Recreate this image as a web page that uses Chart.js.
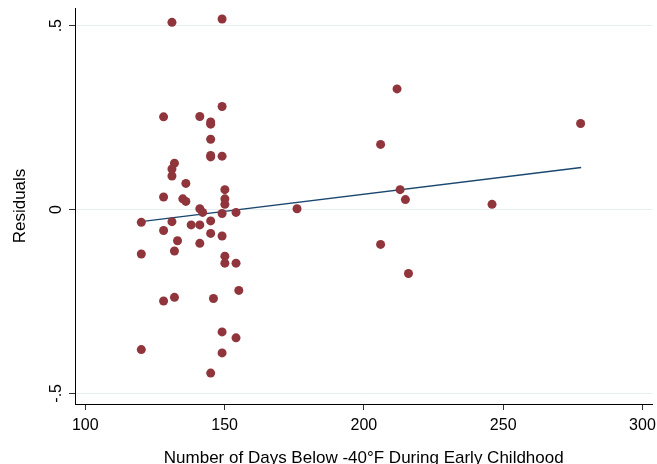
<!DOCTYPE html>
<html>
<head>
<meta charset="utf-8">
<script src="https://cdn.jsdelivr.net/npm/chart.js@4/dist/chart.umd.min.js"></script>
<style>
  html, body { margin: 0; padding: 0; background: #fff; }
  canvas { display: block; }
</style>
</head>
<body>
<canvas id="grafico" width="657" height="464"></canvas>
<script>
/* datos */
const xVals = [131.1, 149.1, 149.1, 128.1, 141.1, 145.0, 145.0, 145.0, 145.0, 145.0,
               149.1, 132.0, 131.1, 131.1, 136.1, 128.1, 135.0, 136.1, 150.1, 150.1,
               150.1, 141.1, 142.1, 149.1, 154.1, 176.0, 120.1, 131.1, 145.0, 128.1,
               138.0, 141.1, 145.0, 149.1, 133.1, 141.1, 120.1, 132.0, 150.1, 150.1,
               154.1, 155.1, 128.1, 132.0, 146.0, 149.1, 154.1, 120.1, 149.1, 145.0,
               211.9, 277.8, 206.0, 213.0, 214.9, 246.0, 206.0, 216.0];
const yVals = [0.509, 0.518, 0.280, 0.252, 0.253, 0.238, 0.232, 0.191, 0.147, 0.143,
               0.145, 0.126, 0.110, 0.091, 0.071, 0.034, 0.029, 0.022, 0.054, 0.029,
               0.014, 0.002, -0.008, -0.011, -0.008, 0.002, -0.035, -0.033, -0.031, -0.057,
               -0.042, -0.042, -0.065, -0.072, -0.085, -0.092, -0.121, -0.113, -0.127, -0.146,
               -0.146, -0.220, -0.249, -0.239, -0.242, -0.333, -0.349, -0.381, -0.390, -0.445,
               0.328, 0.234, 0.177, 0.054, 0.027, 0.014, -0.095, -0.174];
const fitX   = [120, 278];
const fitY   = [-0.033, 0.114];
const xTicks = [100, 150, 200, 250, 300];
const yTicks = [-0.5, 0, 0.5];

const FUENTE = 'Liberation Sans, Arial, sans-serif';

// etiquetas del eje y giradas, como en Stata
const etiquetasY = {
  id: 'etiquetasY',
  afterDraw(chart) {
    const { ctx, scales: { y } } = chart;
    ctx.save();
    ctx.fillStyle = '#000';
    ctx.font = '16px ' + FUENTE;
    ctx.textAlign = 'center';
    ctx.textBaseline = 'middle';
    y.ticks.forEach(t => {
      const py = y.getPixelForValue(t.value);
      ctx.save();
      ctx.translate(57, py);
      ctx.rotate(-Math.PI / 2);
      ctx.fillText(String(t.value).replace('0.', '.'), 0, 0);
      ctx.restore();
    });
    ctx.restore();
  }
};

new Chart(document.getElementById('grafico').getContext('2d'), {
  type: 'scatter',
  data: {
    datasets: [
      {
        data: xVals.map((x, i) => ({ x, y: yVals[i] })),
        backgroundColor: '#90353b',
        borderWidth: 0,
        pointRadius: 4.5,
        pointHoverRadius: 4.5
      },
      {
        type: 'line',
        data: fitX.map((x, i) => ({ x, y: fitY[i] })),
        borderColor: '#1a476f',
        borderWidth: 1.5,
        pointRadius: 0,
        fill: false
      }
    ]
  },
  options: {
    responsive: false,
    animation: false,
    layout: { padding: { top: 8, right: 4, left: 0, bottom: 0 } },
    plugins: { legend: { display: false }, tooltip: { enabled: false } },
    scales: {
      x: {
        type: 'linear',
        min: 96.3, max: 303.6,
        afterBuildTicks: s => { s.ticks = xTicks.map(v => ({ value: v })); },
        afterFit: s => { s.height = 60; s.paddingLeft = 0; s.paddingRight = 0; },
        grid: { drawOnChartArea: false, drawTicks: true, tickLength: 6, tickColor: '#333' },
        border: { display: true, color: '#000', width: 1 },
        ticks: { font: { family: FUENTE, size: 16 }, color: '#000', padding: 6, maxRotation: 0 },
        title: {
          display: true,
          text: 'Number of Days Below -40°F During Early Childhood',
          font: { family: FUENTE, size: 17 },
          color: '#000',
          padding: { top: 0, bottom: -5 }
        }
      },
      y: {
        type: 'linear',
        min: -0.529, max: 0.548,
        afterBuildTicks: s => { s.ticks = yTicks.map(v => ({ value: v })); },
        afterFit: s => { s.width = 75; s.paddingTop = 0; s.paddingBottom = 0; },
        grid: { color: '#e6eff1', lineWidth: 1, drawTicks: true, tickLength: 6, tickColor: '#333' },
        border: { display: true, color: '#000', width: 1 },
        ticks: { display: false },
        title: {
          display: true,
          text: 'Residuals',
          font: { family: FUENTE, size: 17 },
          color: '#000',
          padding: { top: 10, bottom: 0 }
        }
      }
    }
  },
  plugins: [etiquetasY]
});
</script>
</body>
</html>
